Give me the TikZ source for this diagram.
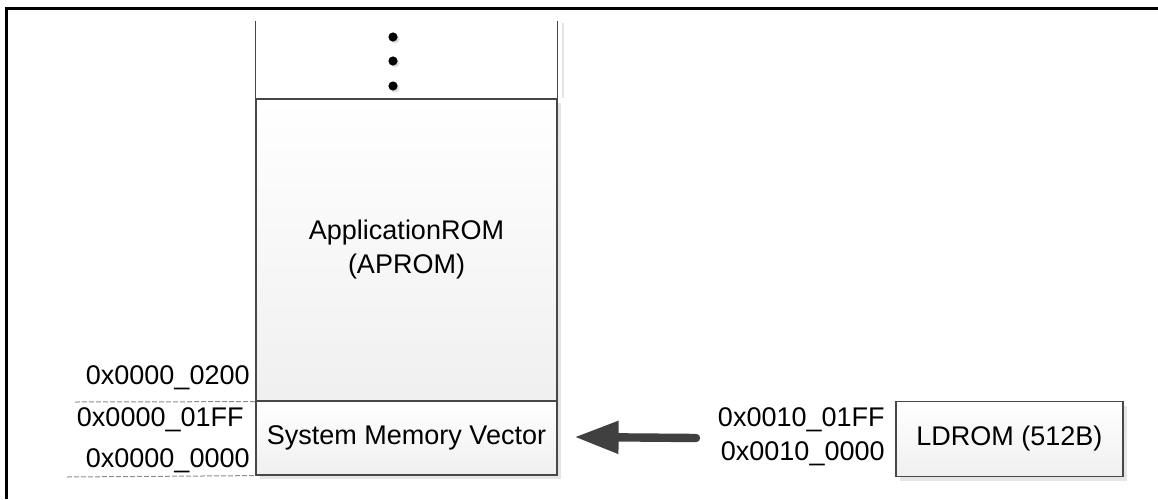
\documentclass[tikz,border=0pt]{standalone}
\usepackage{fontspec}
\setmainfont{Liberation Sans}
\usetikzlibrary{shadows,arrows.meta}

\tikzset{
  memblock/.style={draw=black!72, line width=0.6pt, top color=white, bottom color=black!6,
    drop shadow={shadow xshift=2pt, shadow yshift=-2pt, fill=black!10, opacity=1},
    inner sep=0pt, align=center},
  addr/.style={anchor=east, inner sep=0pt},
  addrdash/.style={draw=black!45, line width=0.5pt, dash pattern=on 2.5pt off 1pt},
  bigarrow/.style={draw=black!75, line width=4.2pt, line cap=round,
    -{Triangle[length=22pt,width=15.5pt]}},
}

\begin{document}
\begin{tikzpicture}[x=0.5pt, y=-0.5pt, font=\fontsize{13.5}{16}\selectfont]
\useasboundingbox (0,0) rectangle (1158,499);

% -----------------------------
% Frame
% -----------------------------
\draw[line width=1.3pt] (6.5,499) -- (6.5,8.5) -- (1158,8.5);

% -----------------------------
% Memory column
% -----------------------------
\node[memblock, minimum width=150.5pt, minimum height=151pt] (aprom) at (406.5,250)
  {ApplicationROM\\[1pt](APROM)};
\node[memblock, minimum width=150.5pt, minimum height=37pt] (smv) at (406.5,438)
  {System Memory Vector};

% open top part
\fill[black!10] ([xshift=2pt]aprom.north east) rectangle ([xshift=3pt,yshift=37.5pt]aprom.north east);
\draw[black!72, line width=0.6pt] (aprom.north west) -- ++(0,-77);
\draw[black!72, line width=0.6pt] (aprom.north east) -- ++(0,-77);

% dots
\foreach \y in {37,61,86} {
  \fill[black!12] (395,\y+2) circle[radius=2.3pt];
  \fill (393,\y) circle[radius=2.3pt];
}

% -----------------------------
% Addresses
% -----------------------------
\node[addr] (a200) at (250,378) {0x0000\_0200};
\node[addr] (a1ff) at (244,420) {0x0000\_01FF};
\node[addr] (a000) at (250,461) {0x0000\_0000};
\draw[addrdash] (75,402) -- (aprom.south west);
\draw[addrdash] (67,477) -- (smv.south west);

% -----------------------------
% LDROM
% -----------------------------
\node[memblock, minimum width=113.5pt, minimum height=37.5pt] (ldrom) at (1009.5,439)
  {LDROM (512B)};
\node[addr] (l1ff) at (885,420) {0x0010\_01FF};
\node[addr] (l000) at (885,454) {0x0010\_0000};

\coordinate (tail) at (696,438);
\draw[bigarrow] (tail) -- ([xshift=8.5pt,yshift=0.5pt]smv.east);

\end{tikzpicture}
\end{document}
